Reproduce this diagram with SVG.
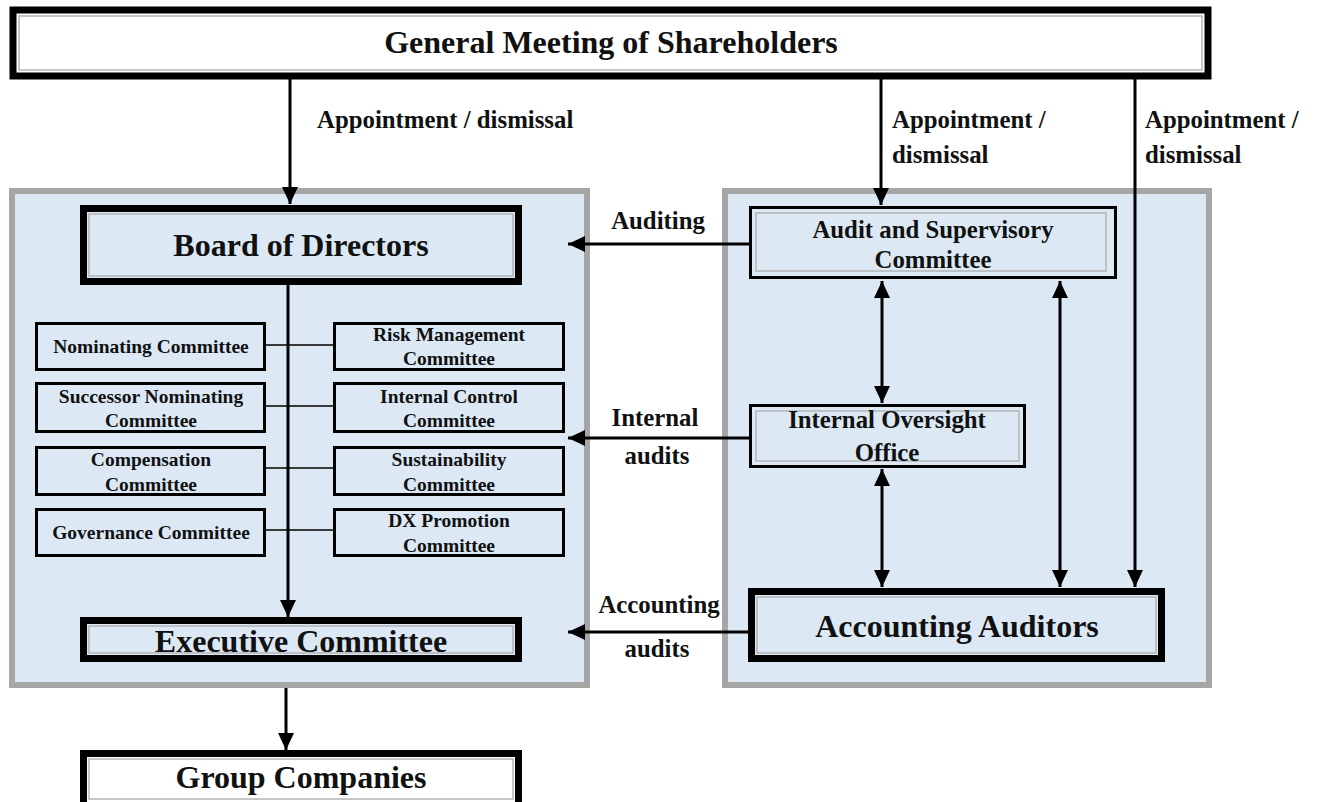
<svg xmlns="http://www.w3.org/2000/svg" width="1318" height="802" viewBox="0 0 1318 802">
<defs>
<style>
text{font-family:"Liberation Serif","Times New Roman",serif;font-weight:bold;fill:#111;text-anchor:middle}
.panel{fill:#dce9f5;stroke:#a6a6a6;stroke-width:6}
.thick{stroke:#000;stroke-width:7}
.inner{fill:none;stroke:#b4b4b4;stroke-width:1.5}
.mid{stroke:#000;stroke-width:3}
.com{fill:#dce9f5;stroke:#000;stroke-width:3}
.line{stroke:#000;stroke-width:3;fill:none}
.thin{stroke:#000;stroke-width:1.5;fill:none}
.lbl{font-size:24.8px;text-anchor:start}
.lblc{font-size:24.8px}
.c{font-size:19.5px}
.big{font-size:32px}
</style>
<marker id="ah" markerUnits="userSpaceOnUse" markerWidth="18" markerHeight="16" refX="17" refY="8" orient="auto-start-reverse">
<path d="M0,0 L17,8 L0,16 z" fill="#000"/>
</marker>
</defs>

<g id="panel-left"><rect class="panel" x="12" y="191" width="575" height="494"/></g>
<g id="panel-right"><rect class="panel" x="725" y="191" width="484" height="494"/></g>

<g id="connectors">
<line class="line" x1="290" y1="79" x2="290" y2="204" marker-end="url(#ah)"/>
<line class="line" x1="881" y1="79" x2="881" y2="205" marker-end="url(#ah)"/>
<line class="line" x1="1135" y1="79" x2="1135" y2="587" marker-end="url(#ah)"/>
<line class="line" x1="288" y1="285" x2="288" y2="617" marker-end="url(#ah)"/>
<line class="line" x1="286" y1="688" x2="286" y2="750" marker-end="url(#ah)"/>
<line class="thin" x1="266" y1="345" x2="333" y2="345"/>
<line class="thin" x1="266" y1="406" x2="333" y2="406"/>
<line class="thin" x1="266" y1="468" x2="333" y2="468"/>
<line class="thin" x1="266" y1="530" x2="333" y2="530"/>
<line class="line" x1="749" y1="244" x2="568" y2="244" marker-end="url(#ah)"/>
<line class="line" x1="749" y1="438" x2="568" y2="438" marker-end="url(#ah)"/>
<line class="line" x1="748" y1="632" x2="568" y2="632" marker-end="url(#ah)"/>
<line class="line" x1="882" y1="281" x2="882" y2="403" marker-start="url(#ah)" marker-end="url(#ah)"/>
<line class="line" x1="882" y1="469" x2="882" y2="587" marker-start="url(#ah)" marker-end="url(#ah)"/>
<line class="line" x1="1060" y1="281" x2="1060" y2="587" marker-start="url(#ah)" marker-end="url(#ah)"/>
<text class="lbl" x="317" y="128">Appointment / dismissal</text>
<text class="lbl" x="892" y="128">Appointment /</text>
<text class="lbl" x="892" y="163">dismissal</text>
<text class="lbl" x="1145" y="128">Appointment /</text>
<text class="lbl" x="1145" y="163">dismissal</text>
<text class="lblc" x="658" y="229">Auditing</text>
<text class="lblc" x="655" y="426">Internal</text>
<text class="lblc" x="657" y="464">audits</text>
<text class="lblc" x="659" y="613">Accounting</text>
<text class="lblc" x="657" y="657">audits</text>
</g>

<g id="gms">
<rect class="thick" x="13" y="10" width="1195" height="66" fill="#fff"/>
<rect class="inner" x="19" y="16" width="1183" height="54"/>
<text x="611" y="53" font-size="32">General Meeting of Shareholders</text>
</g>

<g id="board">
<rect class="thick" x="83.5" y="208.5" width="435" height="73" fill="#dce9f5"/>
<rect class="inner" x="89" y="214" width="424" height="62"/>
<text class="big" x="301" y="256">Board of Directors</text>
</g>

<g id="nominating"><rect class="com" x="36.5" y="323.5" width="228" height="46"/><text class="c" x="151" y="353">Nominating Committee</text></g>
<g id="successor"><rect class="com" x="36.5" y="383.5" width="228" height="48"/><text class="c" x="151" y="403">Successor Nominating</text><text class="c" x="151" y="427">Committee</text></g>
<g id="compensation"><rect class="com" x="36.5" y="447.5" width="228" height="47"/><text class="c" x="151" y="466">Compensation</text><text class="c" x="151" y="491">Committee</text></g>
<g id="governance"><rect class="com" x="36.5" y="509.5" width="228" height="46"/><text class="c" x="151" y="539">Governance Committee</text></g>

<g id="risk"><rect class="com" x="334.5" y="323.5" width="229" height="46"/><text class="c" x="449" y="341">Risk Management</text><text class="c" x="449" y="365">Committee</text></g>
<g id="internal-control"><rect class="com" x="334.5" y="383.5" width="229" height="48"/><text class="c" x="449" y="403">Internal Control</text><text class="c" x="449" y="427">Committee</text></g>
<g id="sustainability"><rect class="com" x="334.5" y="447.5" width="229" height="47"/><text class="c" x="449" y="466">Sustainability</text><text class="c" x="449" y="491">Committee</text></g>
<g id="dx"><rect class="com" x="334.5" y="509.5" width="229" height="46"/><text class="c" x="449" y="527">DX Promotion</text><text class="c" x="449" y="552">Committee</text></g>

<g id="executive">
<rect class="thick" x="83.5" y="620.5" width="435" height="38" fill="#dce9f5"/>
<rect class="inner" x="89" y="626" width="424" height="27"/>
<text class="big" x="301" y="652">Executive Committee</text>
</g>

<g id="group">
<rect class="thick" x="83.5" y="753.5" width="435" height="52" fill="#fff"/>
<rect class="inner" x="89" y="759" width="424" height="40"/>
<text class="big" x="301" y="788">Group Companies</text>
</g>

<g id="audit-committee">
<rect class="mid" x="750.5" y="207.5" width="365" height="70" fill="#dce9f5"/>
<rect class="inner" x="756" y="213" width="350" height="58"/>
<text class="lblc" x="933" y="238">Audit and Supervisory</text>
<text class="lblc" x="933" y="268">Committee</text>
</g>

<g id="internal-oversight">
<rect class="mid" x="750.5" y="405.5" width="274" height="61" fill="#dce9f5"/>
<rect class="inner" x="756" y="411" width="263" height="50"/>
<text class="lblc" x="887" y="428">Internal Oversight</text>
<text class="lblc" x="887" y="461">Office</text>
</g>

<g id="accounting-auditors">
<rect class="thick" x="751.5" y="591.5" width="410" height="67" fill="#dce9f5"/>
<rect class="inner" x="757" y="597" width="399" height="56"/>
<text class="big" x="957" y="637">Accounting Auditors</text>
</g>
</svg>
